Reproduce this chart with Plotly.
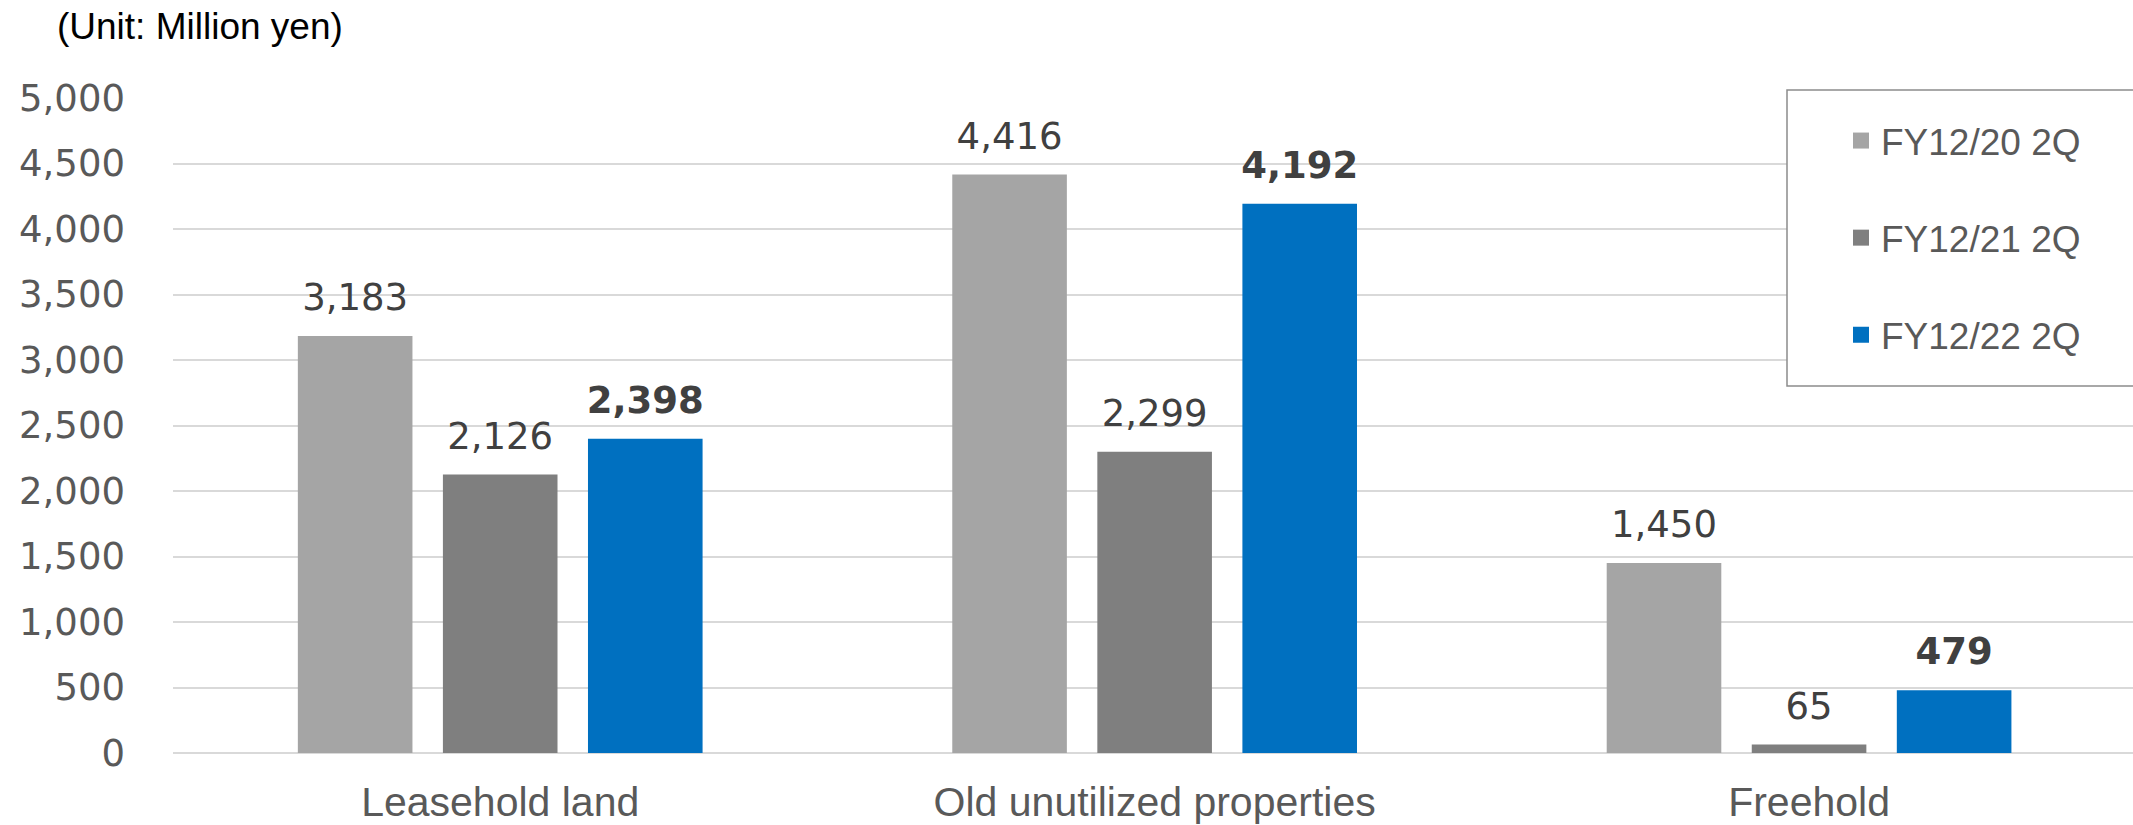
import plotly.graph_objects as go

categories = ["Leasehold land", "Old unutilized properties", "Freehold"]
series_names = ["FY12/20 2Q", "FY12/21 2Q", "FY12/22 2Q"]
values_fy20 = [3183, 4416, 1450]
values_fy21 = [2126, 2299, 65]
values_fy22 = [2398, 4192, 479]
series_values = [values_fy20, values_fy21, values_fy22]
colors = ["#A5A5A5", "#7F7F7F", "#0070C0"]
label_weights = ["normal", "normal", "bold"]
y_ticks = [0, 500, 1000, 1500, 2000, 2500, 3000, 3500, 4000, 4500, 5000]

W, H = 2133, 825
ML, MR, MT, MB = 173, 0, 98, 72
PW, PH = W - ML - MR, H - MT - MB

fig = go.Figure()

for i, (name, vals, col) in enumerate(zip(series_names, series_values, colors)):
    fig.add_trace(go.Bar(
        x=categories, y=vals, name=name, marker=dict(color=col, line=dict(width=0)),
        offsetgroup=str(i), showlegend=False, hoverinfo="x+y+name",
    ))

for i, (name, vals, w) in enumerate(zip(series_names, series_values, label_weights)):
    fig.add_trace(go.Scatter(
        x=categories, y=vals, mode="markers+text", offsetgroup=str(i),
        marker=dict(size=25, color="rgba(0,0,0,0)"),
        text=[f"{v:,}" for v in vals], textposition="top center",
        textfont=dict(family="DejaVu Sans", size=37, color="#404040", weight=w),
        showlegend=False, hoverinfo="skip", cliponaxis=False,
    ))

# legend entries (on a hidden auxiliary subplot, tucked under the legend frame)
for i, (name, col) in enumerate(zip(series_names, colors)):
    fig.add_trace(go.Scatter(
        x=[None], y=[None], mode="markers", name=name, legendgroup=f"g{i}",
        marker=dict(symbol="square", size=19, color=col),
        xaxis="x2", yaxis="y2", showlegend=True,
    ))

fig.update_layout(
    template="none",
    width=W, height=H,
    margin=dict(l=ML, r=MR, t=MT, b=MB, pad=0, autoexpand=False),
    paper_bgcolor="white", plot_bgcolor="white",
    barmode="group", bargap=0.335, bargroupgap=0.21,
    scattermode="group",
    font=dict(family="Liberation Sans, Arial", color="#595959"),
    xaxis=dict(
        range=[-0.5, 2.495], showgrid=False, showline=False, zeroline=False,
        tickfont=dict(family="Liberation Sans, Arial", size=41, color="#595959"),
        ticks="", ticklabelstandoff=21, automargin=False,
    ),
    yaxis=dict(
        range=[0, 5000], tickvals=y_ticks, tickformat=",d",
        showgrid=True, gridcolor="#D9D9D9", gridwidth=2,
        zeroline=True, zerolinecolor="#D9D9D9", zerolinewidth=2,
        showline=False, ticks="", ticklabelstandoff=47, automargin=False,
        tickfont=dict(family="DejaVu Sans", size=37, color="#595959"),
    ),
    xaxis2=dict(visible=False, domain=[0.99, 1], anchor="y2", automargin=False),
    yaxis2=dict(visible=False, domain=[0.99, 1], anchor="x2", automargin=False),
    legend=dict(
        x=(1841 - ML) / PW, y=(MT + PH - 110) / PH, xanchor="left", yanchor="top",
        font=dict(family="Liberation Sans, Arial", size=37, color="#595959"),
        bgcolor="rgba(0,0,0,0)", borderwidth=0, tracegroupgap=46,
        traceorder="grouped", itemsizing="trace",
    ),
    shapes=[dict(
        type="rect", xref="paper", yref="paper",
        x0=(1787 - ML) / PW, x1=1.05,
        y0=(MT + PH - 386) / PH, y1=(MT + PH - 90) / PH,
        line=dict(color="#8C8C8C", width=1.5), fillcolor="white", layer="above",
    )],
    annotations=[dict(
        text="(Unit: Million yen)", xref="paper", yref="paper",
        x=(55 - ML) / PW, y=(MT + PH - 27) / PH, xanchor="left", yanchor="middle",
        showarrow=False, font=dict(family="Liberation Sans, Arial", size=37, color="#000000"),
    )],
)

fig.write_html(
    "out.html",
    config={"displayModeBar": False},
    post_script="document.body.style.margin='0';document.body.style.overflow='hidden';",
)
